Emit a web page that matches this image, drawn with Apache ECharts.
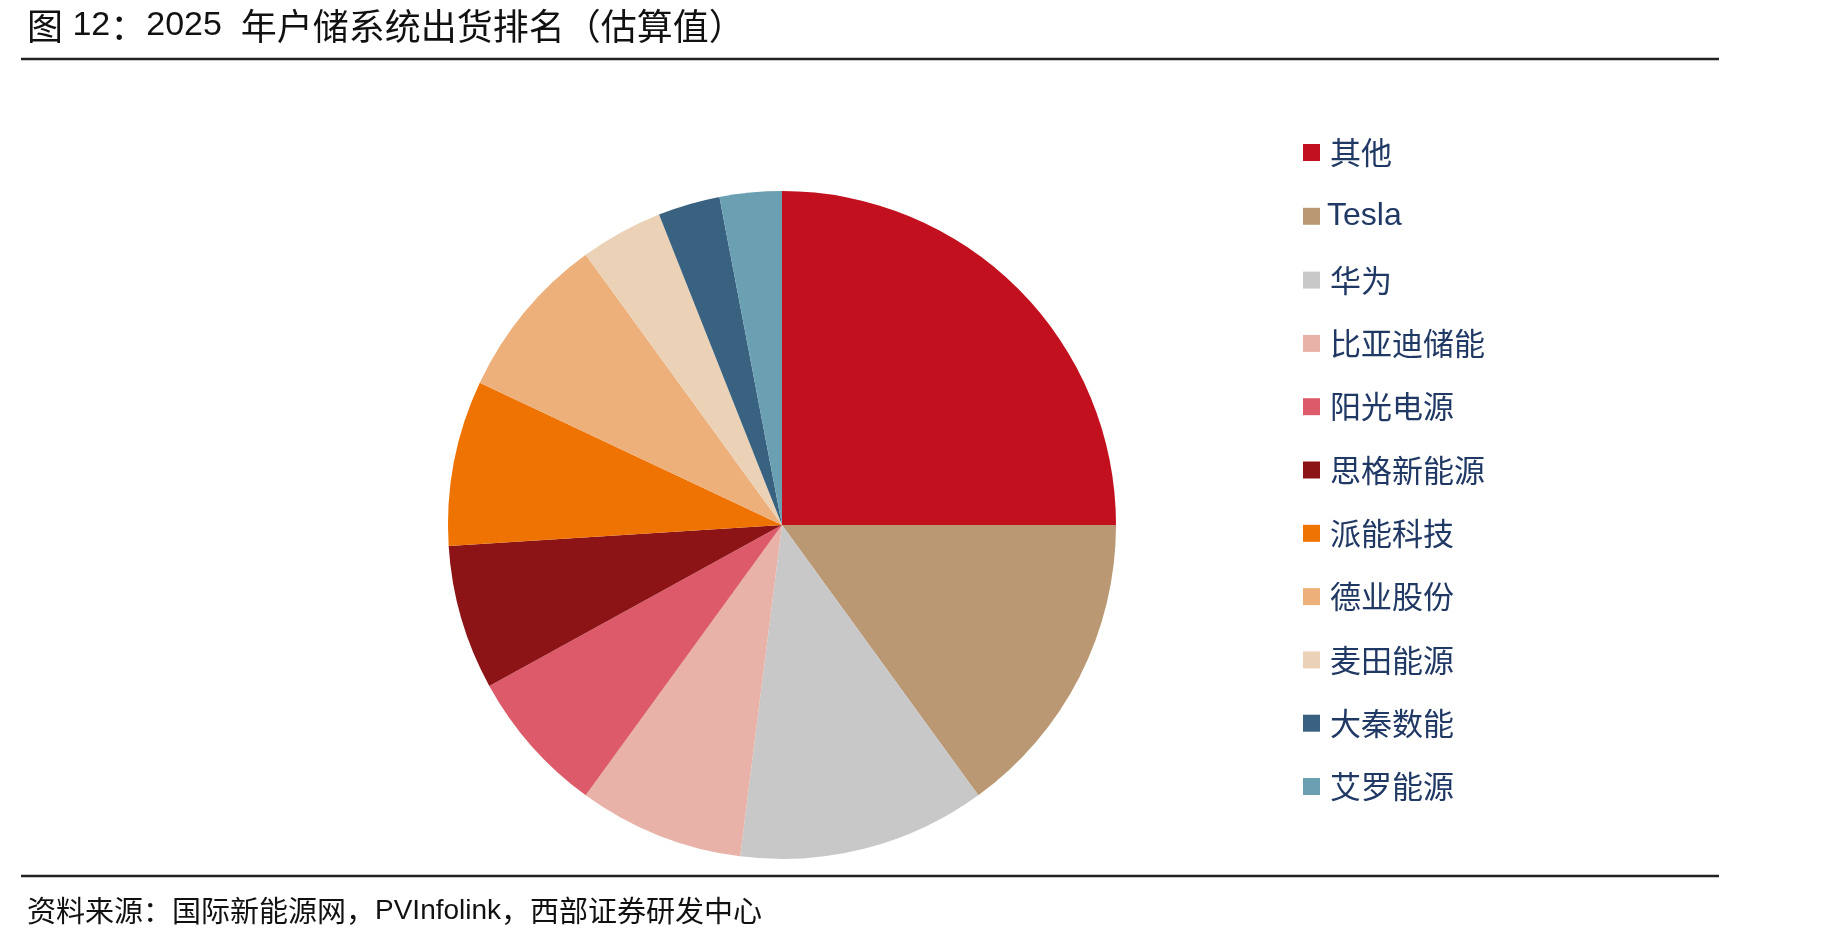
<!DOCTYPE html>
<html>
<head>
<meta charset="utf-8">
<script src="https://cdn.jsdelivr.net/npm/echarts@6/dist/echarts.min.js"></script>
<style>
  html, body { margin: 0; padding: 0; background: #fff; }
  #main { width: 1836px; height: 943px; }
</style>
</head>
<body>
<div id="main"></div>
<script>
// 2025 户储系统出货份额 (%)，按图中扇区角度估读
const companies = ['其他', 'Tesla', '华为', '比亚迪储能', '阳光电源', '思格新能源', '派能科技', '德业股份', '麦田能源', '大秦数能', '艾罗能源'];
const shares = [25, 15, 12, 8, 7, 7, 8, 8, 4, 3, 3];
const sliceColors = ['#C3101E', '#BA9874', '#C8C8C8', '#E8B2A8', '#DC5A6A', '#8C1416', '#EF7300', '#EEB07A', '#EBD2B6', '#386280', '#6BA0B2'];

const titleText = '{cn|图} {en|12}{cn|：}{en|2025}  {cn|年户储系统出货排名（估算值）}';
const sourceText = '{cn|资料来源：国际新能源网，}{en|PVInfolink}{cn|，西部证券研发中心}';

const CJK = '"Noto Sans CJK SC", sans-serif';
const LATIN = '"Liberation Sans", Arial, sans-serif';

const chart = echarts.init(document.getElementById('main'), null, { renderer: 'canvas' });

chart.setOption({
    animation: false,
    color: sliceColors,
    title: [
        {
            text: titleText,
            left: 22,
            top: 1,
            textStyle: {
                fontFamily: LATIN,
                fontSize: 34,
                fontWeight: 'normal',
                color: '#111',
                lineHeight: 40,
                rich: {
                    cn: { fontFamily: CJK, fontSize: 36, color: '#111', lineHeight: 40 },
                    en: { fontFamily: LATIN, fontSize: 34, color: '#111', lineHeight: 40 },
                },
            },
        },
        {
            text: sourceText,
            left: 22,
            top: 889,
            textStyle: {
                fontFamily: CJK,
                fontSize: 29,
                fontWeight: 'normal',
                color: '#111',
                lineHeight: 34,
                rich: {
                    cn: { fontFamily: CJK, fontSize: 29, color: '#111', lineHeight: 34 },
                    en: { fontFamily: LATIN, fontSize: 28, color: '#111', lineHeight: 34 },
                },
            },
        },
    ],
    legend: {
        orient: 'vertical',
        left: 1298,
        top: 132,
        itemWidth: 17,
        itemHeight: 17,
        itemGap: 32.3,
        icon: 'rect',
        selectedMode: false,
        data: companies,
        formatter: (name) => /^[A-Za-z]/.test(name) ? '{en|' + name + '}' : '{cn|' + name + '}',
        textStyle: {
            color: '#203864',
            fontSize: 30,
            lineHeight: 30,
            rich: {
                cn: { fontFamily: CJK, fontSize: 31, lineHeight: 30, color: '#203864', padding: [0, 0, 0, 5] },
                en: { fontFamily: LATIN, fontSize: 32, lineHeight: 30, color: '#203864', padding: [0, 0, 0, 2] },
            },
        },
    },
    graphic: [
        {
            type: 'line',
            shape: { x1: 21, y1: 59, x2: 1719, y2: 59 },
            style: { stroke: '#222', lineWidth: 2.5 },
        },
        {
            type: 'line',
            shape: { x1: 21, y1: 876, x2: 1719, y2: 876 },
            style: { stroke: '#222', lineWidth: 2.5 },
        },
    ],
    series: [
        {
            type: 'pie',
            center: [782, 525],
            radius: [0, 334],
            startAngle: 90,
            clockwise: true,
            label: { show: false },
            labelLine: { show: false },
            emphasis: { disabled: true },
            itemStyle: { borderWidth: 0 },
            data: companies.map((name, i) => ({ name: name, value: shares[i] })),
        },
    ],
});
</script>
</body>
</html>
